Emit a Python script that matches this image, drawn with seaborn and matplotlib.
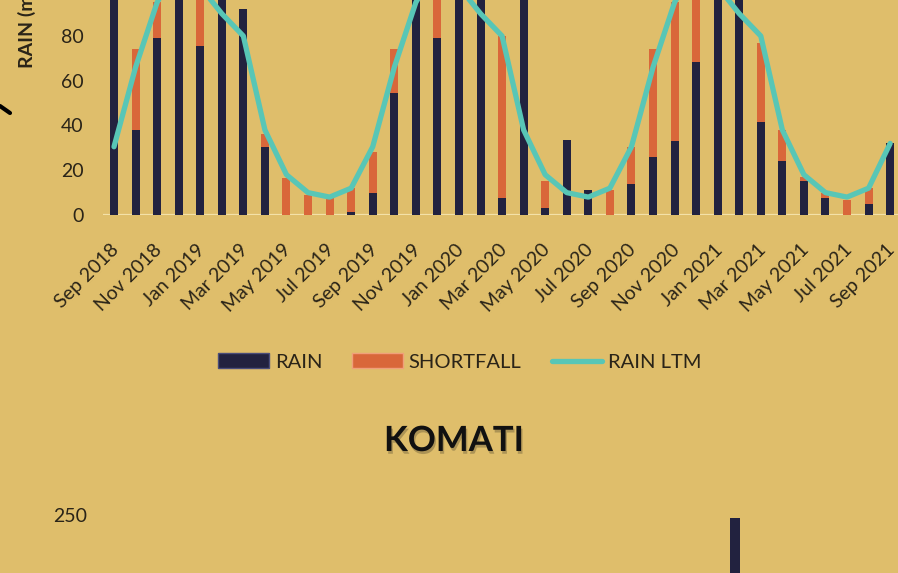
import numpy as np
import matplotlib
matplotlib.use("Agg")
import matplotlib.pyplot as plt
import matplotlib.transforms as mtransforms
import matplotlib.patheffects as pe
from matplotlib.patches import Patch
from matplotlib.lines import Line2D
import seaborn as sns

# monthly series, Sep 2018 .. Sep 2021
months = ['Sep 2018', 'Oct 2018', 'Nov 2018', 'Dec 2018', 'Jan 2019', 'Feb 2019', 'Mar 2019',
          'Apr 2019', 'May 2019', 'Jun 2019', 'Jul 2019', 'Aug 2019', 'Sep 2019', 'Oct 2019',
          'Nov 2019', 'Dec 2019', 'Jan 2020', 'Feb 2020', 'Mar 2020', 'Apr 2020', 'May 2020',
          'Jun 2020', 'Jul 2020', 'Aug 2020', 'Sep 2020', 'Oct 2020', 'Nov 2020', 'Dec 2020',
          'Jan 2021', 'Feb 2021', 'Mar 2021', 'Apr 2021', 'May 2021', 'Jun 2021', 'Jul 2021',
          'Aug 2021', 'Sep 2021']
rain = [105, 38, 79, 130, 75.5, 110, 92, 30.5, 0, 0, 0, 1.5, 10, 54.5,
        120, 79, 140, 115, 7.6, 105, 3, 33.5, 11, 0, 14, 26, 33, 68.5,
        125, 110, 41.7, 24, 15, 7.6, 0, 5, 32]
shortfall = [0, 36, 16, 0, 26.5, 0, 0, 5.5, 16.5, 9, 7.5, 10.5, 18, 19.5,
             0, 33, 0, 0, 72.4, 0, 12, 0, 0, 11, 16.5, 48, 62, 43.5,
             0, 0, 35.3, 14, 2, 2.4, 6.7, 7, 0]
rain_ltm = [30.5, 66, 95, 112, 102, 90, 80, 38, 18, 10, 8, 12, 30.5, 66,
            95, 112, 102, 90, 80, 38, 18, 10, 8, 12, 30.5, 66, 95, 112,
            102, 90, 80, 38, 18, 10, 8, 12, 32]

# second panel (KOMATI) - only the top of one bar is in view
komati_months = ['Feb 2021']
komati_rain = [247.5]

BG = '#dfbe6b'
NAVY = '#22223f'
ORANGE = '#d9673a'
TEAL = '#58c6b6'
TXT = '#2a2418'

sns.set_theme(style='white')
plt.rcParams['font.family'] = ['Lato', 'DejaVu Sans']

W, H = 898, 573
fig = plt.figure(figsize=(W / 100, H / 100), dpi=100, facecolor=BG)

# top panel: y=0 at 215 px, 2.2375 px per mm, axes runs off the top of the picture
step = 21.56
left_px = 114 - 0.5 * step
ax = fig.add_axes([left_px / W, (H - 215) / H, 37 * step / W, 140 * 2.2375 / H])
ax.set_facecolor(BG)

x = np.arange(len(months))
total = np.array(rain) + np.array(shortfall)
sns.barplot(x=months, y=total, color=ORANGE, width=0.37, linewidth=0, saturation=1, ax=ax)
sns.barplot(x=months, y=rain, color=NAVY, width=0.37, linewidth=0, saturation=1, ax=ax)
sns.lineplot(x=x, y=rain_ltm, color=TEAL, linewidth=3.8, ax=ax)
ax.axhline(0, color='#f3e1a8', linewidth=1.6, zorder=0.5)

ax.set_xlim(-0.5, 36.5)
ax.set_ylim(0, 140)
ax.set_yticks(range(0, 81, 20))
ax.tick_params(axis='y', length=0, pad=14, labelsize=14, labelcolor=TXT)
ax.set_xticks(x[::2])
ax.set_xticklabels(months[::2])
ax.tick_params(axis='x', length=0, pad=23, labelsize=14, labelcolor=TXT)
offset = mtransforms.ScaledTranslation(1.5 / 72, 0, fig.dpi_scale_trans)
for lab in ax.get_xticklabels():
    lab.set_rotation(45)
    lab.set_ha('right')
    lab.set_va('center')
    lab.set_rotation_mode('anchor')
    lab.set_transform(lab.get_transform() + offset)
ax.set_xlabel('')
ax.set_ylabel('')
for s in ax.spines.values():
    s.set_visible(False)

fig.text(27 / W, 1 - 20 / H, 'RAIN (mm)', rotation=90, ha='center', va='center',
         fontsize=14, fontweight='bold', color=TXT)

handles = [Patch(facecolor=NAVY, edgecolor='#4a4d7a', linewidth=1),
           Patch(facecolor=ORANGE, edgecolor='#f0a07a', linewidth=1),
           Line2D([], [], color=TEAL, linewidth=3.8)]
fig.legend(handles, ['RAIN', 'SHORTFALL', 'RAIN LTM'], loc='center',
           bbox_to_anchor=(460 / W, 1 - 362 / H), ncol=3, frameon=False,
           fontsize=14.5, labelcolor=TXT, handlelength=2.5, handletextpad=0.3,
           columnspacing=1.5)

# scribble at the left edge
fig.add_artist(Line2D([0 / W, 10 / W], [1 - 106 / H, 1 - 113 / H], color='black',
                      linewidth=3, solid_capstyle='round'))

fig.text(454 / W, 1 - 441 / H, 'KOMATI', ha='center', va='center', fontsize=25,
         fontweight='bold', color='#111111',
         path_effects=[pe.SimplePatchShadow(offset=(1, -2), shadow_rgbFace='#7a6a40', alpha=0.5),
                       pe.Normal()])

# bottom panel: 250 at y=515 px, 1.2 px per unit
bstep = 803 / 37
bscale = 1.2
ax2 = fig.add_axes([95 / W, (H - 515 - 250 * bscale) / H, 37 * bstep / W, 280 * bscale / H])
ax2.set_facecolor(BG)
sns.barplot(x=komati_months, y=komati_rain, order=months, color=NAVY, width=0.46,
            linewidth=0, saturation=1, ax=ax2)
ax2.set_xlim(-0.5, 36.5)
ax2.set_ylim(0, 280)
ax2.set_yticks([250])
ax2.tick_params(axis='y', length=0, pad=6, labelsize=14, labelcolor=TXT)
ax2.set_xticks([])
ax2.set_xlabel('')
ax2.set_ylabel('')
for s in ax2.spines.values():
    s.set_visible(False)

fig.savefig('out.png', dpi=100, facecolor=BG)
